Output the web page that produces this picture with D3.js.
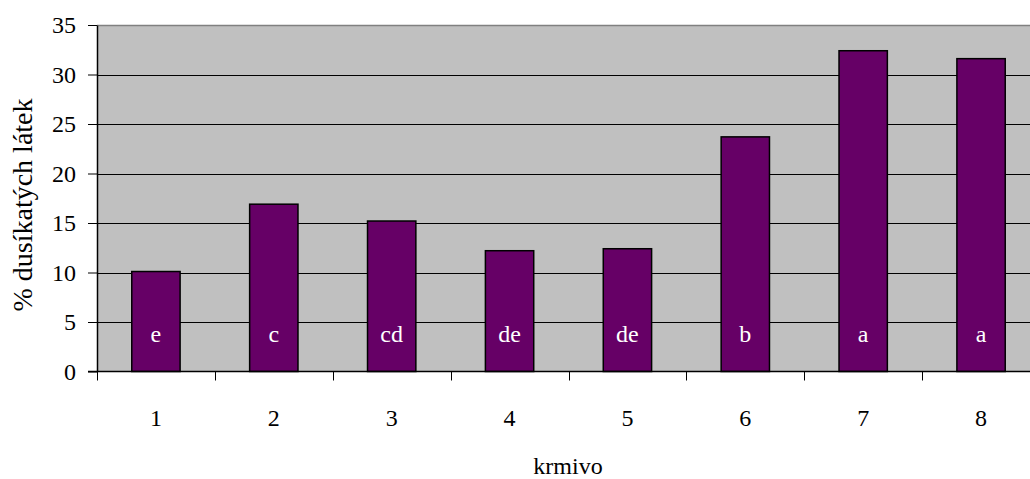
<!DOCTYPE html>
<html>
<head>
<meta charset="utf-8">
<script src="https://cdn.jsdelivr.net/npm/d3@7"></script>
<style>
  html, body { margin: 0; padding: 0; background: #fff; }
  svg { display: block; }
</style>
</head>
<body>
<svg id="chart" width="1030" height="479"></svg>
<script>
// Feed types (krmivo) and nitrogen content in %
const categories = ["1", "2", "3", "4", "5", "6", "7", "8"];
const values = [10.1, 16.9, 15.2, 12.2, 12.4, 23.7, 32.4, 31.6];
// Significance group letters shown inside the bars
const groups = ["e", "c", "cd", "de", "de", "b", "a", "a"];
const yTicks = [0, 5, 10, 15, 20, 25, 30, 35];

const FONT = "'Liberation Serif', 'Times New Roman', Times, serif";
const svg = d3.select("#chart");
const plotLeft = 97, plotTop = 25, plotBottom = 371.5, plotRight = 1040;

const x = d3.scaleBand().domain(categories).range([plotLeft, plotRight]).paddingInner(0.59).paddingOuter(0.295);
const y = d3.scaleLinear().domain([0, 35]).range([plotBottom, plotTop]);

// plot area
svg.append("rect")
  .attr("x", plotLeft).attr("y", plotTop)
  .attr("width", plotRight - plotLeft).attr("height", plotBottom - plotTop)
  .attr("fill", "#c0c0c0");

// horizontal gridlines
svg.append("g").selectAll("line")
  .data(yTicks.filter(d => d > 0 && d < 35))
  .join("line")
  .attr("x1", plotLeft).attr("x2", plotRight)
  .attr("y1", d => Math.round(y(d)) + 0.5).attr("y2", d => Math.round(y(d)) + 0.5)
  .attr("stroke", "#000").attr("stroke-width", 1);

// top border
svg.append("line")
  .attr("x1", plotLeft).attr("x2", plotRight)
  .attr("y1", plotTop + 0.5).attr("y2", plotTop + 0.5)
  .attr("stroke", "#808080").attr("stroke-width", 1.5);

// bars
svg.append("g").selectAll("rect")
  .data(values)
  .join("rect")
  .attr("x", (d, i) => x(categories[i]))
  .attr("width", x.bandwidth())
  .attr("y", d => y(d))
  .attr("height", d => y(0) - y(d))
  .attr("fill", "#660066")
  .attr("stroke", "#000")
  .attr("stroke-width", 1.5);

// group letters
svg.append("g").selectAll("text")
  .data(groups)
  .join("text")
  .attr("x", (d, i) => x(categories[i]) + x.bandwidth() / 2)
  .attr("y", y(0) - 29.5)
  .attr("text-anchor", "middle")
  .style("font-family", FONT)
  .style("font-size", "24px")
  .style("fill", "#fff")
  .text(d => d);

// y axis
const yAxis = d3.axisLeft(y).tickValues(yTicks).tickSize(9).tickPadding(12).tickSizeOuter(0);
const gy = svg.append("g").attr("transform", `translate(${plotLeft},0)`).call(yAxis);
gy.select(".domain").attr("stroke", "#000").attr("stroke-width", 1.5);
gy.selectAll(".tick line").attr("stroke", "#000");
gy.selectAll(".tick text")
  .style("font-family", FONT).style("font-size", "24px").style("fill", "#000")
  .attr("dy", "0.32em");

// x axis: ticks at category boundaries, labels at centres
const gx = svg.append("g").attr("transform", `translate(0,${plotBottom})`);
gx.append("line").attr("x1", plotLeft - 9).attr("x2", plotRight).attr("y1", 0).attr("y2", 0)
  .attr("stroke", "#000").attr("stroke-width", 1.5);
const step = x.step();
const boundaries = d3.range(categories.length + 1).map(i => x(categories[0]) - x.paddingOuter() * step + i * step);
gx.selectAll("line.tk").data(boundaries).join("line").attr("class", "tk")
  .attr("x1", d => Math.round(d) + 0.5).attr("x2", d => Math.round(d) + 0.5)
  .attr("y1", 0).attr("y2", 9).attr("stroke", "#000");
gx.selectAll("text").data(categories).join("text")
  .attr("x", d => x(d) + x.bandwidth() / 2)
  .attr("y", 54)
  .attr("text-anchor", "middle")
  .style("font-family", FONT).style("font-size", "24px")
  .text(d => d);

// axis titles
svg.append("text")
  .attr("x", 568).attr("y", 474)
  .attr("text-anchor", "middle")
  .style("font-family", FONT).style("font-size", "24px")
  .text("krmivo");

svg.append("text")
  .attr("transform", "translate(32,205) rotate(-90)")
  .attr("text-anchor", "middle")
  .style("font-family", FONT).style("font-size", "28px")
  .text("% dusíkatých látek");
</script>
</body>
</html>
